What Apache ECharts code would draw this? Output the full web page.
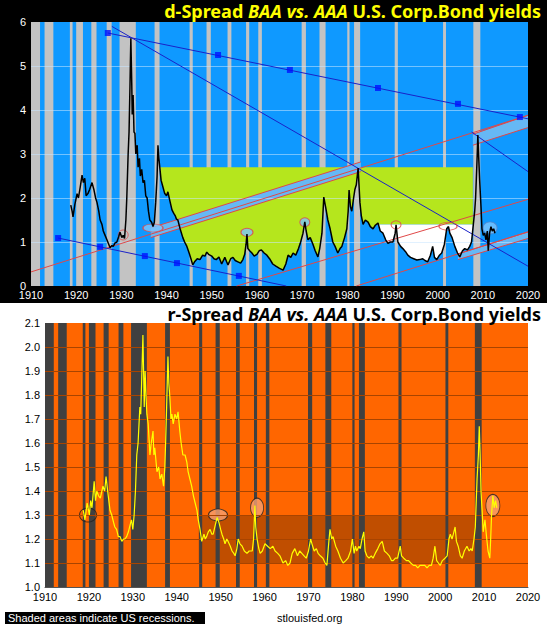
<!DOCTYPE html>
<html>
<head>
<meta charset="utf-8">
<script src="https://cdn.jsdelivr.net/npm/echarts@6/dist/echarts.min.js"></script>
<style>
html, body { margin: 0; padding: 0; background: #fff; }
#chart { width: 547px; height: 625px; background: linear-gradient(#000 0, #000 303px, #fff 303px); }
</style>
</head>
<body>
<div id="chart"></div>
<script>
// NBER recessions, decimal years
var recessions = [
  [1910.0, 1912.0], [1913.0, 1914.95], [1918.6, 1919.2], [1920.0, 1921.5],
  [1923.35, 1924.5], [1926.75, 1927.85], [1929.6, 1933.2], [1937.35, 1938.45],
  [1945.1, 1945.8], [1948.85, 1949.8], [1953.5, 1954.35], [1957.6, 1958.3],
  [1960.3, 1961.1], [1969.9, 1970.85], [1973.85, 1975.2], [1980.0, 1980.5],
  [1981.5, 1982.85], [1990.5, 1991.2], [2001.2, 2001.85], [2007.9, 2009.45]
];

// BAA - AAA (percentage points)
var dSpread = [
  [1918.8,1.84],[1919.1,1.70],[1919.3,1.57],[1919.7,1.85],[1920.2,2.10],[1920.5,2.00],[1920.9,2.25],
  [1921.3,2.52],[1921.6,2.35],[1921.9,2.45],[1922.2,2.05],[1922.6,2.10],[1923.0,2.20],[1923.5,2.35],
  [1923.9,2.20],[1924.3,2.00],[1924.6,1.90],[1925.0,1.70],[1925.3,1.50],[1925.7,1.40],[1926.0,1.25],
  [1926.4,1.15],[1926.8,1.05],[1927.2,0.95],[1927.5,0.87],[1927.9,0.92],[1928.2,0.90],[1928.6,0.98],
  [1929.0,1.00],[1929.4,1.12],[1929.7,1.22],[1930.1,1.10],[1930.4,1.15],[1930.7,1.08],[1931.0,1.50],
  [1931.2,2.00],[1931.5,3.00],[1931.7,3.50],[1931.9,4.50],[1932.0,5.10],[1932.1,5.63],[1932.3,4.60],
  [1932.4,3.90],[1932.6,4.34],[1932.8,3.50],[1933.0,3.47],[1933.2,3.00],[1933.5,3.20],[1933.7,2.70],
  [1934.0,2.90],[1934.2,2.50],[1934.5,2.65],[1934.8,2.35],[1935.1,2.40],[1935.4,2.05],[1935.7,2.00],
  [1936.0,1.70],[1936.3,1.50],[1936.7,1.45],[1937.0,1.35],[1937.3,1.45],[1937.6,1.90],[1937.9,2.48],
  [1938.1,3.20],[1938.3,2.90],[1938.5,2.70],[1938.8,2.40],[1939.2,2.25],[1939.6,2.10],[1940.0,2.05],
  [1940.3,2.14],[1940.7,1.95],[1941.2,1.73],[1941.6,1.65],[1941.9,1.60],[1942.2,1.52],[1942.5,1.50],
  [1943.0,1.30],[1943.6,1.10],[1944.0,1.00],[1944.5,0.90],[1945.0,0.75],[1945.4,0.62],[1945.8,0.48],
  [1946.2,0.55],[1946.8,0.62],[1947.4,0.60],[1948.0,0.70],[1948.5,0.68],[1948.9,0.77],[1949.3,0.72],
  [1950.0,0.68],[1950.5,0.62],[1951.0,0.60],[1951.6,0.66],[1952.2,0.50],[1952.9,0.65],[1953.3,0.55],
  [1953.6,0.48],[1954.2,0.62],[1954.7,0.65],[1955.2,0.58],[1955.8,0.55],[1956.4,0.52],[1956.9,0.60],
  [1957.3,0.72],[1957.6,0.95],[1957.8,1.18],[1958.0,0.85],[1958.4,0.80],[1958.9,0.75],[1959.4,0.68],
  [1960.0,0.72],[1960.5,0.80],[1961.0,0.82],[1961.6,0.75],[1962.2,0.70],[1962.8,0.62],[1963.5,0.50],
  [1964.2,0.45],[1965.0,0.40],[1965.8,0.36],[1966.4,0.50],[1966.9,0.70],[1967.5,0.65],[1968.0,0.75],
  [1968.6,0.70],[1969.2,0.85],[1969.6,0.97],[1970.2,1.20],[1970.6,1.46],[1970.9,1.25],[1971.3,1.05],
  [1971.8,1.10],[1972.4,0.95],[1972.9,0.80],[1973.5,0.66],[1973.9,0.85],[1974.4,1.20],[1974.8,2.02],
  [1975.2,1.80],[1975.7,1.50],[1976.2,1.30],[1976.8,1.00],[1977.3,0.90],[1977.9,0.75],[1978.4,0.85],
  [1978.8,0.90],[1979.4,1.10],[1979.9,1.30],[1980.2,1.70],[1980.4,2.18],[1980.7,1.80],[1981.0,1.70],
  [1981.4,2.00],[1981.7,2.20],[1982.0,2.30],[1982.4,2.68],[1982.8,1.90],[1983.1,1.60],[1983.5,1.40],
  [1984.0,1.50],[1984.6,1.45],[1985.1,1.35],[1985.7,1.30],[1986.2,1.38],[1986.8,1.43],[1987.3,1.25],
  [1987.9,1.20],[1988.5,1.05],[1989.0,0.97],[1989.5,1.00],[1990.1,1.00],[1990.6,1.20],[1990.8,1.39],
  [1991.2,1.00],[1991.8,0.90],[1992.3,0.85],[1992.9,0.78],[1993.4,0.70],[1994.0,0.65],[1994.7,0.62],
  [1995.4,0.59],[1996.0,0.60],[1996.7,0.62],[1997.2,0.58],[1997.8,0.55],[1998.4,0.70],[1998.9,0.90],
  [1999.3,0.65],[1999.8,0.60],[2000.4,0.70],[2000.9,0.75],[2001.5,0.95],[2002.0,1.30],[2002.4,1.35],
  [2002.7,1.20],[2003.2,1.10],[2003.8,0.90],[2004.4,0.75],[2004.9,0.66],[2005.5,0.80],[2006.0,0.85],
  [2006.6,0.82],[2007.1,0.90],[2007.5,1.00],[2007.8,1.30],[2008.2,1.70],[2008.4,2.00],[2008.7,2.80],
  [2008.9,3.43],[2009.1,2.90],[2009.3,2.40],[2009.6,1.80],[2009.8,1.30],[2010.1,1.15],[2010.4,1.20],
  [2010.7,1.05],[2011.0,1.25],[2011.2,0.80],[2011.5,1.20],[2011.8,1.35],[2012.1,1.25],[2012.4,1.30],
  [2012.7,1.20]
];

// BAA / AAA ratio
var rSpread = [
  [1918.7,1.32],[1919.1,1.28],[1919.6,1.35],[1920.1,1.30],[1920.4,1.36],[1920.7,1.33],[1921.2,1.44],
  [1921.5,1.36],[1921.8,1.40],[1922.2,1.38],[1922.6,1.37],[1923.2,1.42],[1923.6,1.40],[1923.9,1.46],
  [1924.4,1.38],[1924.8,1.32],[1925.2,1.30],[1925.6,1.27],[1925.9,1.25],[1926.3,1.24],[1926.7,1.21],
  [1927.1,1.21],[1927.5,1.19],[1927.9,1.20],[1928.2,1.20],[1928.6,1.21],[1929.0,1.23],[1929.4,1.26],
  [1929.7,1.28],[1930.0,1.24],[1930.3,1.30],[1930.6,1.40],[1930.9,1.55],[1931.2,1.60],[1931.6,1.75],
  [1931.8,1.72],[1932.0,1.85],[1932.3,2.05],[1932.5,1.85],[1932.6,1.75],[1932.8,1.90],[1933.0,1.80],
  [1933.2,1.72],[1933.5,1.68],[1933.9,1.55],[1934.2,1.60],[1934.6,1.65],[1934.8,1.55],[1935.0,1.58],
  [1935.5,1.48],[1935.9,1.50],[1936.2,1.45],[1936.6,1.47],[1937.0,1.42],[1937.3,1.50],[1937.5,1.62],
  [1937.7,1.75],[1938.0,1.96],[1938.2,1.85],[1938.4,1.80],[1938.7,1.70],[1938.9,1.72],[1939.2,1.68],
  [1939.6,1.72],[1940.0,1.70],[1940.3,1.73],[1940.7,1.65],[1941.0,1.60],[1941.4,1.55],[1941.9,1.55],
  [1942.3,1.52],[1942.6,1.48],[1943.0,1.45],[1943.4,1.42],[1943.8,1.38],[1944.2,1.35],[1944.6,1.32],
  [1944.9,1.28],[1945.3,1.24],[1945.7,1.19],[1946.2,1.22],[1946.5,1.20],[1946.8,1.21],[1947.2,1.23],
  [1947.6,1.24],[1948.0,1.22],[1948.3,1.22],[1948.8,1.26],[1949.2,1.29],[1949.6,1.27],[1950.0,1.24],
  [1950.3,1.22],[1950.7,1.20],[1951.0,1.18],[1951.4,1.20],[1951.7,1.19],[1952.2,1.17],[1952.6,1.15],
  [1953.0,1.14],[1953.3,1.13],[1953.7,1.16],[1954.0,1.20],[1954.4,1.18],[1954.9,1.17],[1955.4,1.15],
  [1956.0,1.14],[1956.5,1.15],[1957.2,1.15],[1957.5,1.20],[1957.8,1.34],[1958.0,1.25],[1958.3,1.20],
  [1958.7,1.16],[1959.0,1.14],[1959.5,1.15],[1960.1,1.18],[1960.7,1.17],[1961.3,1.16],[1961.9,1.17],
  [1962.4,1.15],[1963.0,1.14],[1963.5,1.13],[1964.2,1.10],[1964.8,1.11],[1965.3,1.09],[1965.8,1.10],
  [1966.3,1.14],[1966.9,1.16],[1967.5,1.13],[1968.0,1.15],[1968.5,1.14],[1969.0,1.13],[1969.5,1.12],
  [1970.0,1.15],[1970.5,1.20],[1970.8,1.18],[1971.3,1.15],[1971.8,1.16],[1972.2,1.14],[1972.7,1.13],
  [1973.3,1.12],[1973.8,1.10],[1974.2,1.09],[1974.6,1.18],[1974.9,1.24],[1975.3,1.20],[1975.6,1.21],
  [1976.2,1.17],[1976.7,1.15],[1977.3,1.12],[1977.9,1.10],[1978.5,1.11],[1979.0,1.12],[1979.6,1.15],
  [1980.0,1.20],[1980.4,1.14],[1980.7,1.17],[1981.0,1.15],[1981.5,1.17],[1981.8,1.16],[1982.2,1.20],
  [1982.6,1.23],[1982.9,1.15],[1983.3,1.13],[1983.8,1.12],[1984.3,1.13],[1984.7,1.12],[1985.2,1.14],
  [1985.8,1.16],[1986.3,1.18],[1986.8,1.19],[1987.3,1.15],[1987.9,1.14],[1988.4,1.13],[1988.9,1.11],
  [1989.3,1.11],[1989.8,1.12],[1990.3,1.12],[1990.9,1.17],[1991.2,1.13],[1991.7,1.12],[1992.3,1.11],
  [1992.8,1.11],[1993.3,1.10],[1993.9,1.09],[1994.4,1.09],[1994.9,1.08],[1995.4,1.09],[1995.9,1.09],
  [1996.5,1.09],[1997.0,1.08],[1997.5,1.09],[1998.0,1.09],[1998.4,1.12],[1998.8,1.17],[1999.2,1.11],
  [1999.6,1.10],[2000.0,1.09],[2000.5,1.11],[2001.1,1.12],[2001.6,1.13],[2002.0,1.20],[2002.3,1.22],
  [2002.7,1.20],[2003.0,1.22],[2003.4,1.25],[2003.7,1.19],[2004.1,1.17],[2004.6,1.13],[2005.0,1.12],
  [2005.5,1.15],[2006.1,1.17],[2006.6,1.15],[2007.0,1.16],[2007.3,1.15],[2007.7,1.20],[2008.0,1.25],
  [2008.4,1.45],[2008.7,1.55],[2008.9,1.67],[2009.1,1.55],[2009.3,1.40],[2009.6,1.30],[2009.8,1.23],
  [2010.2,1.28],[2010.5,1.22],[2010.9,1.15],[2011.3,1.12],[2011.5,1.20],[2011.7,1.30],[2012.0,1.38],
  [2012.3,1.33],[2012.6,1.36],[2012.9,1.33]
];

// annotations drawn on the top panel
var greenZone = [1938.5, 2007.8, 2.7, 1.4, 1986.5];      // x from, x to, top, shelf, shelf start
var blueSquaresHigh = [[1927,5.75],[1951.4,5.25],[1967.3,4.91],[1986.8,4.5],[2004.5,4.14],[2018.2,3.84]];
var blueSquaresLow = [[1916,1.09],[1925.3,0.89],[1935.2,0.68],[1942.3,0.52],[1956,0.23]];
var blueLines = [
  [[1927,5.75],[2020,3.80]],
  [[1916,1.09],[1966.5,0]],
  [[1927.9,5.9],[2020,0.45]],
  [[2007.5,3.5],[2020,2.6]]
];
var redLines = [
  [[1910,0.32],[2020,3.88]],
  [[1955.5,0],[2020,1.97]],
  [[1982,0],[2020,1.23]]
];
var channels = [
  [[1936.5,1.32],[1983,2.82],[1983,2.6],[1936.5,1.1]],
  [[2007.8,3.45],[2020,3.88],[2020,3.6],[2007.8,3.2]],
  [[2004.5,0.73],[2020,1.23],[2020,1.08],[2004.5,0.6]]
];
var topRings = [[1930.4,1.16],[1937.0,1.32],[1957.8,1.22],[1970.6,1.45],[1990.8,1.39],[2002.3,1.36],[2011.6,1.32]];
var topRingSize = [[10,10],[20,8],[12,8],[10,9],[10,8],[18,8],[14,12]];
var topRingFill = ['none','#7cc6ff','#7cc6ff','#7cc6ff','none','none','#7cc6ff'];
var topRingLine = ['#e04848','#e04848','#e04848','#e04848','#e04848','#e04848','#5a86c8'];

// annotations on the bottom panel
var darkBox = [[1945, 1.1], [2008, 1.3]];
var bottomRings = [[1919.8,1.30],[1949.4,1.30],[1958.3,1.33],[2012.0,1.34]];
var bottomRingSize = [[17,14],[19,12],[13,19],[14,22]];
var bottomRingFill = ['none','#f6a070','#f6a070','#f6a070'];

var topGridVals = [1, 2, 3, 4, 5];
var bottomGridVals = [1.1, 1.2, 1.3, 1.4, 1.5, 1.6, 1.7, 1.8, 1.9, 2.0];

var chart = echarts.init(document.getElementById('chart'), null, { renderer: 'svg' });

function bandAreas(list) {
  return list.map(function (r) { return [{ xAxis: r[0] }, { xAxis: r[1] }]; });
}

function polygonSeries(points, fill, stroke, gi, z) {
  return {
    type: 'custom', xAxisIndex: gi, yAxisIndex: gi, z: z, silent: true, clip: true,
    data: [points[0]],
    renderItem: function (params, api) {
      return {
        type: 'polygon',
        shape: { points: points.map(function (p) { return api.coord(p); }) },
        style: { fill: fill, stroke: stroke || null, lineWidth: 1 }
      };
    }
  };
}

// green zone above the curve, white shelf under 1.4
var gz = greenZone;
var curveGreen = dSpread.filter(function (p) { return p[0] >= gz[0] && p[0] <= gz[4]; })
  .map(function (p) { return [p[0], Math.min(p[1], gz[2])]; });
var greenPoly = [[gz[0], gz[2]], [gz[1], gz[2]], [gz[1], gz[3]], [gz[4], gz[3]]]
  .concat(curveGreen.slice().reverse());
var curveWhite = dSpread.filter(function (p) { return p[0] >= gz[4] && p[0] <= gz[1]; })
  .map(function (p) { return [p[0], Math.min(p[1], gz[3])]; });
var whitePoly = [[gz[4], gz[3]], [gz[1], gz[3]]].concat(curveWhite.slice().reverse());

var series = [];
series.push(polygonSeries(greenPoly, '#b5e61d', null, 0, 1));
series.push(polygonSeries(whitePoly, '#ffffff', null, 0, 1));
series.push({
  type: 'line', xAxisIndex: 0, yAxisIndex: 0, data: [], z: 2, silent: true,
  markLine: {
    silent: true, symbol: 'none', label: { show: false },
    lineStyle: { color: 'rgba(200,230,255,0.55)', width: 1, type: 'solid' },
    data: topGridVals.map(function (v) { return { yAxis: v }; })
  }
});
series.push({
  type: 'line', xAxisIndex: 0, yAxisIndex: 0, data: [], z: 3, silent: true,
  markArea: { silent: true, itemStyle: { color: '#c3c3c3' }, data: bandAreas(recessions) }
});
channels.forEach(function (c) {
  series.push(polygonSeries(c, '#66b8f5', null, 0, 4));
  series.push({
    type: 'line', xAxisIndex: 0, yAxisIndex: 0, z: 5, silent: true, showSymbol: false,
    data: [c[0], c[1]], lineStyle: { color: '#e04848', width: 1 }
  });
  series.push({
    type: 'line', xAxisIndex: 0, yAxisIndex: 0, z: 5, silent: true, showSymbol: false,
    data: [c[3], c[2]], lineStyle: { color: '#e04848', width: 1 }
  });
});
redLines.forEach(function (l) {
  series.push({
    type: 'line', xAxisIndex: 0, yAxisIndex: 0, z: 5, silent: true, showSymbol: false,
    data: l, lineStyle: { color: '#e04848', width: 1 }
  });
});
blueLines.forEach(function (l) {
  series.push({
    type: 'line', xAxisIndex: 0, yAxisIndex: 0, z: 5, silent: true, showSymbol: false,
    data: l, lineStyle: { color: '#1a22c8', width: 1 }
  });
});
series.push({
  type: 'scatter', xAxisIndex: 0, yAxisIndex: 0, z: 6, silent: true,
  symbol: 'rect', symbolSize: 6, itemStyle: { color: '#0010ff' },
  data: blueSquaresHigh.concat(blueSquaresLow)
});
series.push({
  type: 'scatter', xAxisIndex: 0, yAxisIndex: 0, z: 6, silent: true, symbol: 'circle',
  data: topRings.map(function (p, i) {
    return {
      value: p, symbolSize: topRingSize[i],
      itemStyle: { color: topRingFill[i], borderColor: topRingLine[i], borderWidth: 1 }
    };
  })
});
series.push({
  type: 'line', xAxisIndex: 0, yAxisIndex: 0, z: 7, silent: true, showSymbol: false,
  data: dSpread, lineStyle: { color: '#000', width: 1.5 }
});

// bottom panel
series.push({
  type: 'line', xAxisIndex: 1, yAxisIndex: 1, data: [], z: 1, silent: true,
  markArea: {
    silent: true, itemStyle: { color: '#c04e00' },
    data: [[{ xAxis: darkBox[0][0], yAxis: darkBox[0][1] }, { xAxis: darkBox[1][0], yAxis: darkBox[1][1] }]]
  }
});
series.push({
  type: 'line', xAxisIndex: 1, yAxisIndex: 1, data: [], z: 2, silent: true,
  markLine: {
    silent: true, symbol: 'none', label: { show: false },
    lineStyle: { color: '#a84400', width: 1, type: 'solid' },
    data: bottomGridVals.map(function (v) { return { yAxis: v }; })
  }
});
series.push({
  type: 'line', xAxisIndex: 1, yAxisIndex: 1, data: [], z: 3, silent: true,
  markArea: { silent: true, itemStyle: { color: '#404040' }, data: bandAreas(recessions) }
});
series.push({
  type: 'scatter', xAxisIndex: 1, yAxisIndex: 1, z: 4, silent: true, symbol: 'circle',
  data: bottomRings.map(function (p, i) {
    return {
      value: p, symbolSize: bottomRingSize[i],
      itemStyle: { color: bottomRingFill[i], borderColor: '#202020', borderWidth: 1 }
    };
  })
});
series.push({
  type: 'line', xAxisIndex: 1, yAxisIndex: 1, z: 5, silent: true, showSymbol: false,
  data: rSpread, lineStyle: { color: '#ffff00', width: 1.2 }
});

var titleRich = function (col) {
  var base = { fontFamily: 'Noto Sans', fontWeight: 'bold', fontSize: 18, lineHeight: 20, color: col };
  return { n: base, i: Object.assign({}, base, { fontStyle: 'italic' }) };
};

chart.setOption({
  animation: false,
  title: [
    { text: '{n|d-Spread }{i|BAA vs. AAA}{n| U.S. Corp.Bond yields}', right: 6, top: 1, padding: 0,
      textStyle: { rich: titleRich('#ffff00') } },
    { text: '{n|r-Spread }{i|BAA vs. AAA}{n| U.S. Corp.Bond yields}', right: 6, top: 304, padding: 0,
      textStyle: { rich: titleRich('#000000') } }
  ],
  grid: [
    { left: 31, top: 22, width: 497, height: 264, show: true, backgroundColor: '#0f99ff', borderWidth: 0 },
    { left: 45, top: 323, width: 483, height: 264, show: true, backgroundColor: '#ff6600', borderWidth: 0 }
  ],
  xAxis: [
    { type: 'value', gridIndex: 0, min: 1910, max: 2020, interval: 10,
      axisLine: { show: false }, axisTick: { show: false }, splitLine: { show: false },
      axisLabel: { color: '#fff', fontSize: 11, fontFamily: 'Liberation Sans', margin: 3,
        formatter: function (v) { return String(v); } } },
    { type: 'value', gridIndex: 1, min: 1910, max: 2020, interval: 10,
      axisLine: { show: true, lineStyle: { color: '#555', width: 1 } }, axisTick: { show: false }, splitLine: { show: false },
      axisLabel: { color: '#000', fontSize: 11, fontFamily: 'Liberation Sans', margin: 4,
        formatter: function (v) { return String(v); } } }
  ],
  yAxis: [
    { type: 'value', gridIndex: 0, min: 0, max: 6, interval: 1,
      axisLine: { show: false }, axisTick: { show: false }, splitLine: { show: false },
      axisLabel: { color: '#fff', fontSize: 11, fontFamily: 'Liberation Sans', margin: 5 } },
    { type: 'value', gridIndex: 1, min: 1.0, max: 2.1, interval: 0.1,
      axisLine: { show: false }, axisTick: { show: false }, splitLine: { show: false },
      axisLabel: { color: '#000', fontSize: 11, fontFamily: 'Liberation Sans', margin: 5,
        formatter: function (v) { return v.toFixed(1); } } }
  ],
  graphic: [
    { type: 'rect', shape: { x: 5, y: 612, width: 200, height: 12 }, style: { fill: '#000' } },
    { type: 'text', x: 8, y: 612, style: { text: 'Shaded areas indicate US recessions.', fill: '#fff',
      font: '11px "Liberation Sans"' } },
    { type: 'text', x: 277, y: 612, style: { text: 'stlouisfed.org', fill: '#000',
      font: '11px "Liberation Sans"' } }
  ],
  series: series
});
</script>
</body>
</html>
